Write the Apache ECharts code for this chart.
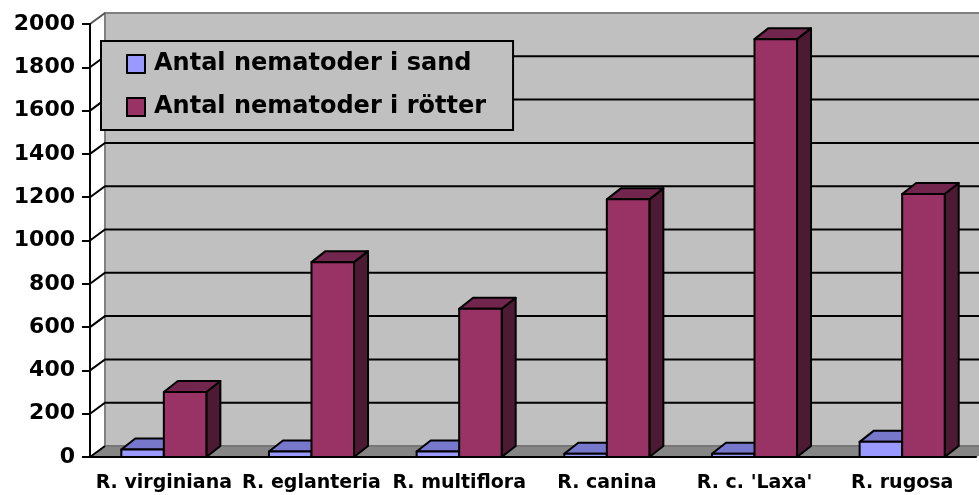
<!DOCTYPE html>
<html>
<head>
<meta charset="utf-8">
<script src="https://cdn.jsdelivr.net/npm/echarts@6/dist/echarts.min.js"></script>
<style>
  html, body { margin: 0; padding: 0; background: #fff; }
  #chart { width: 979px; height: 495px; }
</style>
</head>
<body>
<div id="chart"></div>
<script>
const categories = ['R. virginiana', 'R. eglanteria', 'R. multiflora', 'R. canina', "R. c. 'Laxa'", 'R. rugosa']
const sand = [35, 25, 25, 15, 15, 70]
const rotter = [300, 900, 685, 1190, 1930, 1215]
const yTicks = [0, 200, 400, 600, 800, 1000, 1200, 1400, 1600, 1800, 2000]

// depth offset of the fake 3d
const DX = 15
const DY = -11
const BAR_RATIO = 0.288

function barItem(side, front, top, dark) {
  return function(params, api) {
    var i = api.value(0)
    var p = api.coord([i, api.value(1)])
    var base = api.coord([i, 0])
    var w = api.size([1, 0])[0] * BAR_RATIO
    var x0 = side === 0 ? p[0] - w : p[0]
    var x1 = x0 + w
    var yT = p[1]
    var yB = base[1]
    var line = { stroke: '#000', lineWidth: 2, lineJoin: 'round' }
    return {
      type: 'group',
      children: [
        { type: 'polygon', shape: { points: [[x1, yB], [x1 + DX - 1, yB + DY], [x1 + DX - 1, yT + DY], [x1, yT]] },
          style: Object.assign({ fill: dark }, line) },
        { type: 'polygon', shape: { points: [[x0, yT], [x0 + DX - 1, yT + DY], [x1 + DX - 1, yT + DY], [x1, yT]] },
          style: Object.assign({ fill: top }, line) },
        { type: 'rect', shape: { x: x0, y: yT, width: w, height: yB - yT },
          style: Object.assign({ fill: front }, line) }
      ]
    }
  }
}

function wallItem(params, api) {
  var cs = params.coordSys
  var x0 = cs.x
  var x1 = cs.x + cs.width
  var yTop = api.coord([0, yTicks[yTicks.length - 1]])[1]
  var yBot = api.coord([0, 0])[1]
  var children = [
    { type: 'polygon', z2: 0,
      shape: { points: [[x0 + DX, yTop + DY], [x1 + DX, yTop + DY], [x1 + DX, yBot + DY], [x0 + DX, yBot + DY]] },
      style: { fill: '#c0c0c0', stroke: '#808080', lineWidth: 2 } },
    { type: 'polygon', z2: 0,
      shape: { points: [[x0, yBot], [x1, yBot], [x1 + DX, yBot + DY], [x0 + DX, yBot + DY]] },
      style: { fill: '#868686', stroke: '#6a6a6a', lineWidth: 1 } }
  ]
  yTicks.forEach(function(t, k) {
    var y = api.coord([0, t])[1]
    if (k === 0) {
      children.push({ type: 'line', z2: 1, shape: { x1: x0, y1: y, x2: x0 + DX, y2: y + DY },
        style: { stroke: '#000', lineWidth: 2 } })
    } else if (k === yTicks.length - 1) {
      children.push({ type: 'line', z2: 1, shape: { x1: x0, y1: y, x2: x0 + DX, y2: y + DY },
        style: { stroke: '#555', lineWidth: 2 } })
    } else {
      children.push({ type: 'polyline', z2: 1, shape: { points: [[x0, y], [x0 + DX, y + DY], [x1 + DX, y + DY]] },
        style: { stroke: '#000', lineWidth: 2, fill: null } })
    }
  })
  return { type: 'group', children: children }
}

var myChart = echarts.init(document.getElementById('chart'))
const option = {
  backgroundColor: '#fff',
  animation: false,
  textStyle: { fontFamily: 'DejaVu Sans' },
  legend: {
    data: ['Antal nematoder i sand', 'Antal nematoder i rötter'],
    orient: 'vertical',
    left: 101,
    top: 41,
    z: 10,
    padding: [11, 27, 11, 25],
    itemGap: 19,
    itemWidth: 18,
    itemHeight: 18,
    icon: 'rect',
    selectedMode: false,
    backgroundColor: '#c0c0c0',
    borderColor: '#000',
    borderWidth: 2,
    itemStyle: { borderColor: '#000', borderWidth: 2 },
    textStyle: {
      color: '#000',
      fontFamily: 'DejaVu Sans',
      fontWeight: 'bold',
      fontSize: 24,
      lineHeight: 24,
      padding: [0, 0, 0, 4]
    }
  },
  grid: {
    left: 90,
    right: 3,
    top: 24,
    bottom: 38
  },
  xAxis: {
    type: 'category',
    data: categories,
    z: 10,
    axisLine: { lineStyle: { color: '#000', width: 2 } },
    axisTick: { length: 8, lineStyle: { color: '#000', width: 2 } },
    axisLabel: {
      interval: 0,
      color: '#000',
      fontFamily: 'DejaVu Sans',
      fontWeight: 'bold',
      fontSize: 19,
      margin: 17
    }
  },
  yAxis: {
    type: 'value',
    min: 0,
    max: 2000,
    interval: 200,
    z: 10,
    axisLine: { show: true, lineStyle: { color: '#000', width: 2 } },
    axisTick: { show: true, length: 8, lineStyle: { color: '#000', width: 2 } },
    splitLine: { show: false },
    axisLabel: {
      formatter: function(v) { return String(v) },
      color: '#000',
      fontFamily: 'DejaVu Sans',
      fontWeight: 'bold',
      fontSize: 22,
      margin: 15
    }
  },
  series: [
    {
      name: 'wall',
      type: 'custom',
      z: 1,
      silent: true,
      renderItem: wallItem,
      data: [[0, 0]],
      encode: { x: 0, y: 1 }
    },
    {
      name: 'Antal nematoder i sand',
      type: 'custom',
      z: 2,
      itemStyle: { color: '#9999ff' },
      renderItem: barItem(0, '#9999ff', '#7777cc', '#5c5c99'),
      data: sand.map(function(v, i) { return [i, v] }),
      encode: { x: 0, y: 1 }
    },
    {
      name: 'Antal nematoder i rötter',
      type: 'custom',
      z: 3,
      itemStyle: { color: '#993366' },
      renderItem: barItem(1, '#993366', '#73264d', '#4d1a33'),
      data: rotter.map(function(v, i) { return [i, v] }),
      encode: { x: 0, y: 1 }
    }
  ]
}
myChart.setOption(option)
</script>
</body>
</html>
